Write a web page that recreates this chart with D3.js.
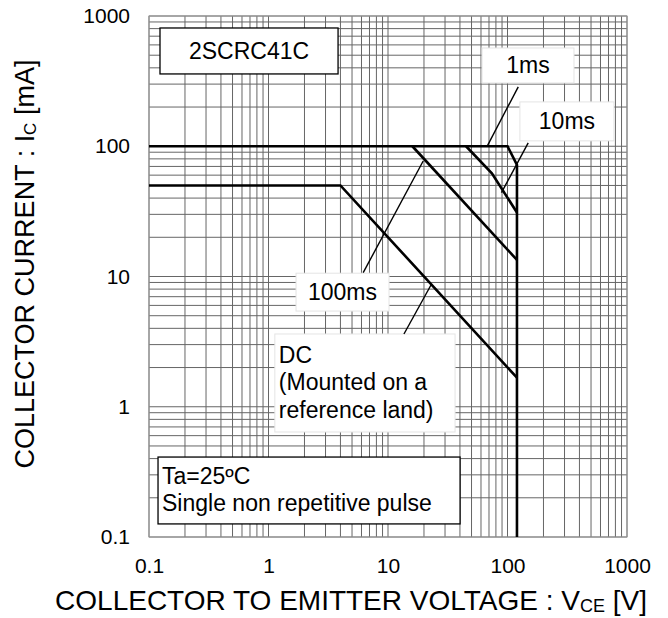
<!DOCTYPE html>
<html>
<head>
<meta charset="utf-8">
<script src="https://cdn.jsdelivr.net/npm/d3@7/dist/d3.min.js"></script>
<style>
  body { margin: 0; background: #fff; }
  text { font-family: "Liberation Sans", Arial, sans-serif; fill: #000; }
</style>
</head>
<body>
<div id="soa"></div>
<script>
// axis ticks
var xTicks = [0.1, 1, 10, 100, 1000];
var yTicks = [0.1, 1, 10, 100, 1000];

// safe operating area curves, [VCE (V), IC (mA)]
var curve1ms   = [[0.1, 100], [100, 100], [120, 72], [120, 0.1]];
var curve10ms  = [[45, 100], [74, 62], [120, 31]];
var curve100ms = [[16, 100], [120, 13.4]];
var curveDC    = [[0.1, 50], [4, 50], [120, 1.67]];
var curves = [curve1ms, curve10ms, curve100ms, curveDC];

// leader lines from labels to curves
var leaders = [
    [[123, 286], [68, 101]],     // 1ms
    [[149, 106], [89, 44]],      // 10ms
    [[6.2, 10.7], [19.7, 77]],   // 100ms
    [[13.6, 3.62], [22.9, 8.6]]  // DC
];

// label boxes: [left V, top I, right V, bottom I]
var labelBoxes = [
    { lines: ["2SCRC41C"], box: [0.1236, 809, 3.82, 359], border: true, center: true },
    { lines: ["1ms"], box: [61.2, 568, 360, 306], border: false, center: true },
    { lines: ["10ms"], box: [127, 219, 778, 110], border: false, center: true },
    { lines: ["100ms"], box: [1.70, 10.6, 10.2, 5.43], border: false, center: true },
    { lines: ["DC", "(Mounted on a", "reference land)"], box: [1.13, 3.62, 36.4, 0.64], border: false, center: false },
    { lines: ["Ta=25ºC", "Single non repetitive pulse"], box: [0.119, 0.411, 40.1, 0.126], border: true, center: false }
];

var margin = { top: 16, right: 41, bottom: 81, left: 149 };
var width = 668 - margin.left - margin.right;
var height = 618 - margin.top - margin.bottom;

var svg = d3.select("#soa")
    .append("svg")
    .attr("width", 668)
    .attr("height", 618)
    .append("g")
    .attr("transform", `translate(${margin.left},${margin.top})`);

var x = d3.scaleLog().domain([0.1, 1000]).range([0, width]);
var y = d3.scaleLog().domain([0.1, 1000]).range([height, 0]);

// grid
svg.append("g")
    .selectAll("line")
    .data(x.ticks())
    .enter()
    .append("line")
    .attr("x1", d => x(d)).attr("x2", d => x(d))
    .attr("y1", 0).attr("y2", height)
    .style("stroke", "#666")
    .style("stroke-width", 1);

svg.append("g")
    .selectAll("line")
    .data(y.ticks())
    .enter()
    .append("line")
    .attr("y1", d => y(d)).attr("y2", d => y(d))
    .attr("x1", 0).attr("x2", width)
    .style("stroke", "#666")
    .style("stroke-width", 1);

svg.append("rect")
    .attr("width", width)
    .attr("height", height)
    .style("fill", "none")
    .style("stroke", "#999")
    .style("stroke-width", 1);

// axes (labels only)
var xAxis = svg.append("g")
    .attr("transform", `translate(0,${height})`)
    .call(d3.axisBottom(x).tickValues(xTicks).tickFormat(d => String(d)).tickSize(0).tickPadding(21));
var yAxis = svg.append("g")
    .call(d3.axisLeft(y).tickValues(yTicks).tickFormat(d => String(d)).tickSize(0).tickPadding(19));
[xAxis, yAxis].forEach(function (a) {
    a.select(".domain").remove();
    a.selectAll("text")
        .style("font-family", "'Liberation Sans', Arial, sans-serif")
        .style("font-size", "21px")
        .style("fill", "#000");
});

var line = d3.line().x(d => x(d[0])).y(d => y(d[1]));

// label boxes drawn under curves
var boxes = svg.selectAll(".lbl")
    .data(labelBoxes)
    .enter()
    .append("g")
    .attr("class", "lbl");

boxes.append("rect")
    .attr("x", d => x(d.box[0]))
    .attr("y", d => y(d.box[1]))
    .attr("width", d => x(d.box[2]) - x(d.box[0]))
    .attr("height", d => y(d.box[3]) - y(d.box[1]))
    .style("fill", "#fff")
    .style("stroke", d => d.border ? "#000" : "#e4e4e4")
    .style("stroke-width", d => d.border ? 1.3 : 1);

boxes.each(function (d) {
    var g = d3.select(this);
    var x0 = x(d.box[0]), x1 = x(d.box[2]);
    var y0 = y(d.box[1]), y1 = y(d.box[3]);
    if (d.center) {
        g.append("text")
            .style("font-size", "23px")
            .attr("text-anchor", "middle")
            .attr("x", (x0 + x1) / 2)
            .attr("y", (y0 + y1) / 2 + 8)
            .text(d.lines[0]);
    } else {
        var startY = d.lines.length === 3 ? y0 + 29 : y0 + 26.5;
        d.lines.forEach(function (s, i) {
            g.append("text")
                .style("font-size", "23px")
                .attr("x", x0 + 4)
                .attr("y", startY + i * 27.5)
                .text(s);
        });
    }
});

// leader lines
svg.selectAll(".leader")
    .data(leaders)
    .enter()
    .append("path")
    .attr("class", "leader")
    .attr("d", line)
    .style("fill", "none")
    .style("stroke", "#000")
    .style("stroke-width", 1.4);

// curves
svg.selectAll(".curve")
    .data(curves)
    .enter()
    .append("path")
    .attr("class", "curve")
    .attr("d", line)
    .style("fill", "none")
    .style("stroke", "#000")
    .style("stroke-width", 2.6)
    .style("stroke-linejoin", "miter");

// axis titles
var xTitle = svg.append("text")
    .attr("x", 351 - margin.left)
    .attr("y", 610 - margin.top)
    .attr("text-anchor", "middle")
    .style("font-size", "28px");
xTitle.append("tspan").text("COLLECTOR TO EMITTER VOLTAGE : V");
xTitle.append("tspan").attr("dy", 2).style("font-size", "18px").text("CE");
xTitle.append("tspan").attr("dy", -2).text(" [V]");

var yTitle = svg.append("text")
    .attr("transform", `translate(${34 - margin.left},${264 - margin.top}) rotate(-90)`)
    .attr("text-anchor", "middle")
    .style("font-size", "27px");
yTitle.append("tspan").text("COLLECTOR CURRENT : I");
yTitle.append("tspan").attr("dy", 2).style("font-size", "17px").text("C");
yTitle.append("tspan").attr("dy", -2).text(" [mA]");
</script>
</body>
</html>
